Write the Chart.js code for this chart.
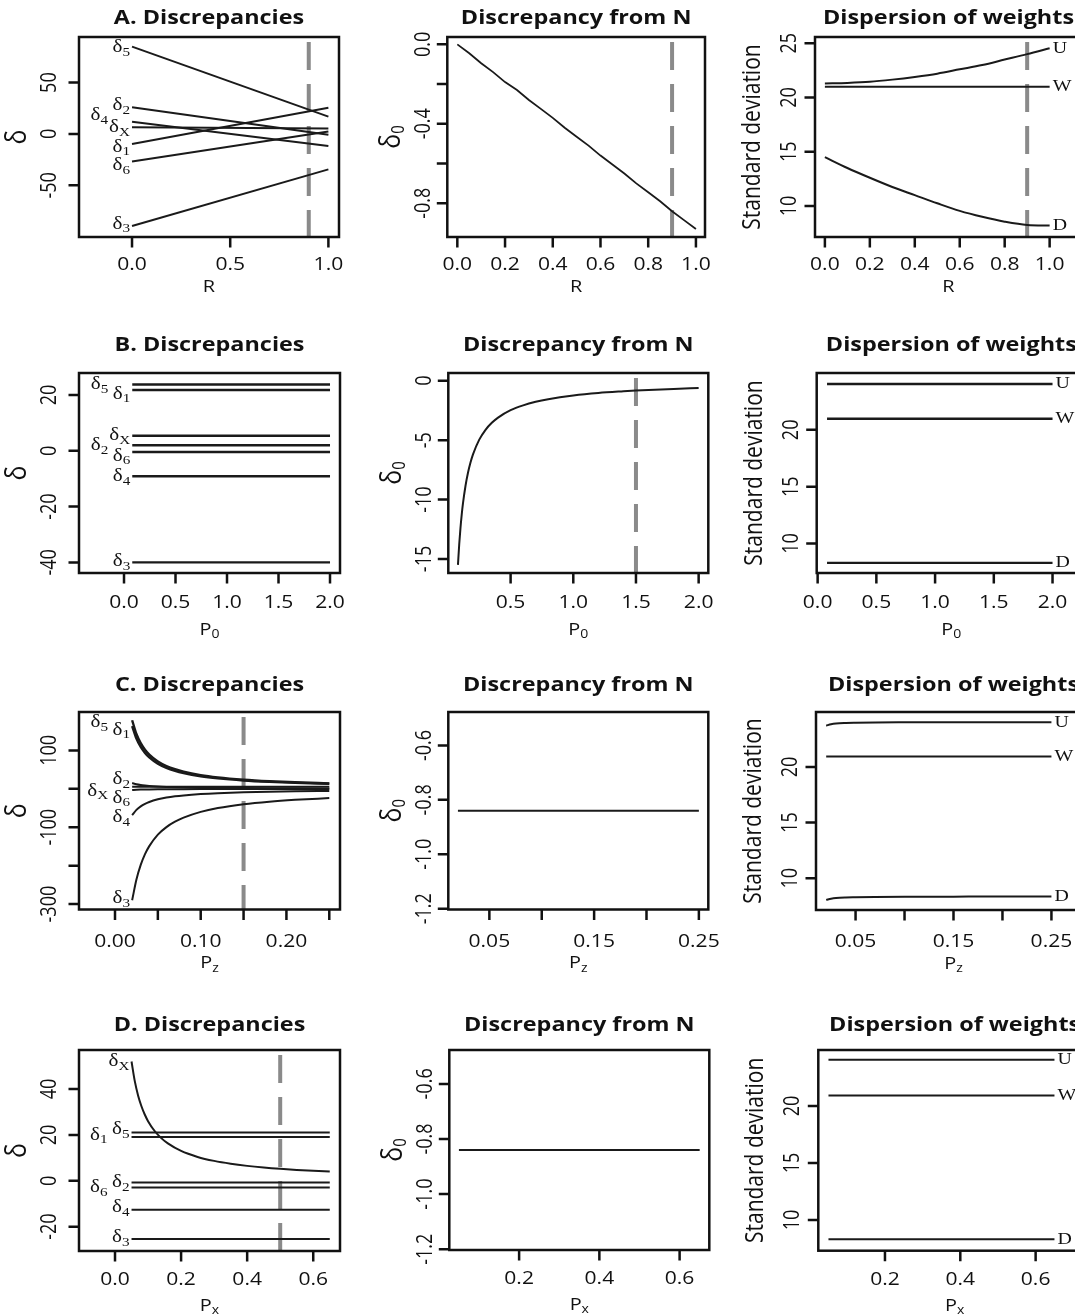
<!DOCTYPE html>
<html>
<head>
<meta charset="utf-8">
<script src="https://cdn.jsdelivr.net/npm/chart.js@4.4.0/dist/chart.umd.min.js"></script>
<style>
  body { margin: 0; background: #fff; }
  #sheet { position: relative; width: 1075px; height: 1316px; overflow: hidden; background: #fff; }
  #sheet canvas { position: absolute; }
</style>
</head>
<body>
<div id="sheet"></div>
<script>
// ---- A: sweep over R ----
var aR = [0, 1];
var aD5 = [85.0, 16.9];
var aD2 = [26.0, -0.7];
var aD4 = [12.0, -11.7];
var aDX = [6.5, 5.3];
var aD1 = [-9.7, 25.6];
var aD6 = [-26.9, 2.5];
var aD3 = [-89.6, -34.5];

var aRfine = [0, 0.05, 0.1, 0.15, 0.2, 0.25, 0.3, 0.35, 0.4, 0.45, 0.5,
              0.55, 0.6, 0.65, 0.7, 0.75, 0.8, 0.85, 0.9, 0.95, 1];
var aD0 = [0, -0.045, -0.095, -0.14, -0.19, -0.23, -0.28, -0.325, -0.37, -0.42, -0.465,
           -0.51, -0.56, -0.605, -0.65, -0.70, -0.745, -0.79, -0.84, -0.885, -0.93];

var aRsd = [0, 0.1, 0.2, 0.3, 0.4, 0.5, 0.6, 0.7, 0.8, 0.9, 1];
var aSdU = [21.3, 21.35, 21.45, 21.65, 21.9, 22.2, 22.6, 23.0, 23.5, 24.0, 24.55];
var aSdW = [21.0, 21.0, 21.0, 21.0, 21.0, 21.0, 21.0, 21.0, 21.0, 21.0, 21.0];
var aSdD = [14.5, 13.5, 12.6, 11.75, 11.0, 10.25, 9.55, 9.0, 8.55, 8.25, 8.2];

// ---- B: sweep over P0 ----
var bP0 = [0.08, 2.0];
var bD5 = [23.8, 23.8];
var bD1 = [21.8, 21.8];
var bDX = [5.4, 5.4];
var bD2 = [2.0, 2.0];
var bD6 = [-0.4, -0.4];
var bD4 = [-9.1, -9.1];
var bD3 = [-40, -40];

var bP0fine = [0.08, 0.09, 0.1, 0.11, 0.12, 0.14, 0.16, 0.18, 0.2, 0.25, 0.3, 0.35,
               0.4, 0.5, 0.6, 0.7, 0.8, 1.0, 1.2, 1.4, 1.5, 1.6, 1.8, 2.0];
var bD0 = [-15.5, -13.78, -12.4, -11.27, -10.33, -8.86, -7.75, -6.89, -6.2, -4.96, -4.13, -3.54,
           -3.1, -2.48, -2.07, -1.77, -1.55, -1.24, -1.03, -0.89, -0.83, -0.78, -0.69, -0.62];

var bSdU = [24.03, 24.03];
var bSdW = [20.97, 20.97];
var bSdD = [8.3, 8.3];

// ---- C: sweep over Pz ----
var cPz = [0.02, 0.025, 0.03, 0.035, 0.04, 0.05, 0.06, 0.07, 0.08, 0.1, 0.12, 0.15, 0.18, 0.21, 0.25];
var cD5 = [178.5, 142.8, 119, 102, 89.3, 71.4, 59.5, 51, 44.6, 35.7, 29.8, 23.8, 19.8, 17.0, 14.3];
var cD1 = [163.5, 130.8, 109, 93.4, 81.8, 65.4, 54.5, 46.7, 40.9, 32.7, 27.3, 21.8, 18.2, 15.6, 13.1];
var cD2 = [15, 12, 10, 8.6, 7.5, 6, 5, 4.3, 3.75, 3, 2.5, 2, 1.67, 1.43, 1.2];
var cDX = [5.4, 5.4, 5.4, 5.4, 5.4, 5.4, 5.4, 5.4, 5.4, 5.4, 5.4, 5.4, 5.4, 5.4, 5.4];
var cD6 = [-3, -2.4, -2, -1.7, -1.5, -1.2, -1, -0.86, -0.75, -0.6, -0.5, -0.4, -0.33, -0.29, -0.24];
var cD4 = [-68.3, -54.6, -45.5, -39, -34.1, -27.3, -22.8, -19.5, -17.1, -13.7, -11.4, -9.1, -7.6, -6.5, -5.5];
var cD3 = [-290, -236, -198, -170, -149, -119, -99.5, -85.5, -75, -60, -50, -40, -33.3, -28.6, -24];

var cPzEnds = [0.02, 0.25];
var cD0 = [-0.84, -0.84];

var cPzSd = [0.02, 0.025, 0.03, 0.04, 0.05, 0.07, 0.1, 0.15, 0.2, 0.25];
var cSdU = [23.72, 23.85, 23.92, 23.97, 23.99, 24.01, 24.02, 24.03, 24.03, 24.03];
var cSdW = [20.95, 20.95, 20.95, 20.95, 20.95, 20.95, 20.95, 20.95, 20.95, 20.95];
var cSdD = [8.05, 8.15, 8.21, 8.26, 8.28, 8.31, 8.33, 8.34, 8.35, 8.35];

// ---- D: sweep over Px ----
var dPx = [0.05, 0.65];
var dD5 = [21.0, 21.0];
var dD1 = [19.1, 19.1];
var dD2 = [-0.7, -0.7];
var dD6 = [-2.9, -2.9];
var dD4 = [-12.6, -12.6];
var dD3 = [-25.4, -25.4];

var dPxFine = [0.05, 0.06, 0.07, 0.08, 0.09, 0.1, 0.12, 0.14, 0.16, 0.2, 0.25, 0.3,
               0.35, 0.4, 0.45, 0.5, 0.55, 0.6, 0.65];
var dDX = [52, 43.3, 37.1, 32.5, 28.9, 26, 21.7, 18.6, 16.3, 13, 10.4, 8.67,
           7.43, 6.5, 5.78, 5.2, 4.73, 4.33, 4.0];

var dD0 = [-0.84, -0.84];
var dSdU = [24.05, 24.05];
var dSdW = [20.9, 20.9];
var dSdD = [8.3, 8.3];

// tick values and their printed labels ('' = tick without label)
var ticksR = [0, 0.2, 0.4, 0.6, 0.8, 1];
var labelsR = ['0.0', '0.2', '0.4', '0.6', '0.8', '1.0'];
var ticksP0 = [0, 0.5, 1, 1.5, 2];
var labelsP0 = ['0.0', '0.5', '1.0', '1.5', '2.0'];
var ticksPz = [0, 0.05, 0.1, 0.15, 0.2, 0.25];
var labelsPz = ['0.00', '', '0.10', '', '0.20', ''];
var ticksPzN = [0.05, 0.1, 0.15, 0.2, 0.25];
var labelsPzN = ['0.05', '', '0.15', '', '0.25'];
var ticksPx = [0, 0.2, 0.4, 0.6];
var labelsPx = ['0.0', '0.2', '0.4', '0.6'];
var ticksD0 = [-0.6, -0.8, -1.0, -1.2];
var labelsD0 = ['-0.6', '-0.8', '-1.0', '-1.2'];
var ticksSd = [10, 15, 20];
var labelsSd = ['10', '15', '20'];

var SX = 1.17;                      // glyphs in this figure run wide
var SANS = '"Open Sans", sans-serif';
var SERIF = '"Liberation Serif", "Times New Roman", serif';
var INK = '#111';
var TICK = 10.5;

var ROWS = [
  { top: 0,   h: 318, titleY: 18,   tickGap: 28, titleGap: 50 },
  { top: 318, h: 342, titleY: 345,  tickGap: 30, titleGap: 57 },
  { top: 660, h: 330, titleY: 685,  tickGap: 32, titleGap: 54 },
  { top: 990, h: 326, titleY: 1025, tickGap: 29, titleGap: 55 }
];
var COLS = [
  { left: 0,   w: 385, yTickGap: 29, yTitleGap: 61 },
  { left: 358, w: 385, yTickGap: 23, yTitleGap: 56 },
  { left: 716, w: 384, yTickGap: 25, yTitleGap: 62 }
];

function pts(xs, ys) {
  return xs.map(function (x, i) { return { x: x, y: ys[i] }; });
}

function put(ctx, s, x, y, font, align, rot) {
  ctx.save();
  ctx.translate(x, y);
  ctx.scale(SX, 1);
  if (rot) ctx.rotate(rot);
  ctx.font = font;
  ctx.textAlign = align;
  ctx.textBaseline = 'middle';
  ctx.fillText(s, 0, 0);
  ctx.restore();
}

// main glyph followed by a lowered subscript
function putSub(ctx, main, sub, x, y, size, subSize, family, align, rot) {
  ctx.save();
  ctx.translate(x, y);
  ctx.scale(SX, 1);
  if (rot) ctx.rotate(rot);
  ctx.textBaseline = 'middle';
  ctx.textAlign = 'left';
  var f1 = size + 'px ' + family, f2 = subSize + 'px ' + family;
  ctx.font = f1;
  var w1 = ctx.measureText(main).width;
  ctx.font = f2;
  var w2 = sub ? ctx.measureText(sub).width : 0;
  var x0 = align === 'right' ? -(w1 + w2) : (align === 'center' ? -(w1 + w2) / 2 : 0);
  ctx.font = f1;
  ctx.fillText(main, x0, 0);
  if (sub) {
    ctx.font = f2;
    ctx.fillText(sub, x0 + w1, size * 0.28);
  }
  ctx.restore();
}

function frame(p) {
  var row = ROWS[p.row], col = COLS[p.col];
  return {
    id: 'frame',
    afterDatasetsDraw: function (chart) {
      var ctx = chart.ctx, a = chart.chartArea, xs = chart.scales.x, ys = chart.scales.y;
      ctx.save();
      ctx.strokeStyle = INK;
      ctx.fillStyle = INK;
      ctx.lineWidth = 2.5;
      ctx.strokeRect(a.left, a.top, a.right - a.left, a.bottom - a.top);

      ctx.beginPath();
      p.xTicks.forEach(function (v) {
        var px = xs.getPixelForValue(v);
        ctx.moveTo(px, a.bottom); ctx.lineTo(px, a.bottom + TICK);
      });
      p.yTicks.forEach(function (v) {
        var py = ys.getPixelForValue(v);
        ctx.moveTo(a.left, py); ctx.lineTo(a.left - TICK, py);
      });
      ctx.stroke();

      var tickFont = '18px ' + SANS;
      p.xTicks.forEach(function (v, i) {
        if (p.xLabels[i]) put(ctx, p.xLabels[i], xs.getPixelForValue(v), a.bottom + row.tickGap, tickFont, 'center');
      });
      p.yTicks.forEach(function (v, i) {
        if (p.yLabels[i]) put(ctx, p.yLabels[i], a.left - col.yTickGap, ys.getPixelForValue(v), tickFont, 'center', -Math.PI / 2);
      });

      var cx = (a.left + a.right) / 2;
      put(ctx, p.title, cx, row.titleY - row.top, 'bold 20px ' + SANS, 'center');
      putSub(ctx, p.xTitle[0], p.xTitle[1], cx, a.bottom + row.titleGap, 17, 12, SANS, 'center');
      var longTitle = p.yTitle[0].length > 2;
      putSub(ctx, p.yTitle[0], p.yTitle[1], a.left - col.yTitleGap, (a.top + a.bottom) / 2,
             longTitle ? 21 : 25, 15, SANS, 'center', -Math.PI / 2);

      (p.tags || []).forEach(function (t) {
        var px = xs.getPixelForValue(t.x) + (t.dx || 0);
        var py = ys.getPixelForValue(t.y) + (t.dy || 0);
        if (t.side === 'right') {
          put(ctx, t.main, px + 3, py, '17px ' + SERIF, 'left');
        } else {
          putSub(ctx, 'δ', t.sub, px - 2, py, 18, 13, SERIF, 'right');
        }
      });
      ctx.restore();
    }
  };
}

function panel(p) {
  var row = ROWS[p.row], col = COLS[p.col];
  var cv = document.createElement('canvas');
  cv.width = col.w;
  cv.height = row.h;
  cv.style.left = col.left + 'px';
  cv.style.top = row.top + 'px';
  document.getElementById('sheet').appendChild(cv);

  var sets = p.lines.map(function (l) {
    return {
      data: pts(l.x, l.y),
      showLine: true,
      borderColor: '#1a1a1a',
      borderWidth: l.w || 2,
      pointRadius: 0,
      fill: false,
      cubicInterpolationMode: l.smooth ? 'monotone' : 'default',
      tension: 0
    };
  });
  if (p.marker !== undefined) {
    // reference value, dashed across the whole plot region
    sets.push({
      data: [{ x: p.marker, y: p.yr[1] }, { x: p.marker, y: p.yr[0] }],
      showLine: true,
      borderColor: '#8a8a8a',
      borderWidth: 4,
      borderDash: [28, 14],
      borderDashOffset: 37,
      pointRadius: 0,
      fill: false
    });
  }

  new Chart(cv, {
    type: 'scatter',
    data: { datasets: sets },
    options: {
      responsive: false,
      animation: false,
      devicePixelRatio: 1,
      events: [],
      layout: {
        padding: {
          left: p.box[0] - col.left,
          top: p.box[1] - row.top,
          right: col.w - (p.box[2] - col.left),
          bottom: row.h - (p.box[3] - row.top)
        }
      },
      plugins: { legend: { display: false }, tooltip: { enabled: false }, title: { display: false } },
      scales: {
        x: { type: 'linear', display: false, min: p.xr[0], max: p.xr[1] },
        y: { type: 'linear', display: false, min: p.yr[0], max: p.yr[1] }
      }
    },
    plugins: [frame(p)]
  });
}

// ---------- row A ----------
panel({
  row: 0, col: 0, box: [79, 37, 339, 237], title: 'A. Discrepancies',
  xr: [-0.27, 1.054], yr: [-100.3, 94.4],
  xTicks: [0, 0.5, 1], xLabels: ['0.0', '0.5', '1.0'],
  yTicks: [-50, 0, 50], yLabels: ['-50', '0', '50'],
  xTitle: ['R', ''], yTitle: ['δ', ''],
  lines: [
    { x: aR, y: aD5 }, { x: aR, y: aD2 }, { x: aR, y: aD4 }, { x: aR, y: aDX },
    { x: aR, y: aD1 }, { x: aR, y: aD6 }, { x: aR, y: aD3 }
  ],
  marker: 0.9,
  tags: [
    { sub: '5', x: 0, y: aD5[0], dy: 1 },
    { sub: '2', x: 0, y: aD2[0], dy: -2 },
    { sub: '4', x: 0, y: aD4[0], dx: -22, dy: -6 },
    { sub: 'X', x: 0, y: aDX[0], dy: 0 },
    { sub: '1', x: 0, y: aD1[0], dy: 3 },
    { sub: '6', x: 0, y: aD6[0], dy: 4 },
    { sub: '3', x: 0, y: aD3[0], dy: -2 }
  ]
});

panel({
  row: 0, col: 1, box: [447.3, 37, 705, 237], title: 'Discrepancy from N',
  xr: [-0.042, 1.038], yr: [-0.970, 0.037],
  xTicks: ticksR, xLabels: labelsR,
  yTicks: [0, -0.2, -0.4, -0.6, -0.8], yLabels: ['0.0', '', '-0.4', '', '-0.8'],
  xTitle: ['R', ''], yTitle: ['δ', '0'],
  lines: [{ x: aRfine, y: aD0, w: 1.8 }],
  marker: 0.9
});

panel({
  row: 0, col: 2, box: [815, 37, 1082, 237], title: 'Dispersion of weights',
  xr: [-0.044, 1.144], yr: [7.14, 25.58],
  xTicks: ticksR, xLabels: labelsR, yTicks: [10, 15, 20, 25], yLabels: ['10', '15', '20', '25'],
  xTitle: ['R', ''], yTitle: ['Standard deviation', ''],
  lines: [{ x: aRsd, y: aSdU, smooth: true }, { x: aRsd, y: aSdW }, { x: aRsd, y: aSdD, smooth: true }],
  marker: 0.9,
  tags: [
    { side: 'right', main: 'U', x: 1, y: aSdU[10] },
    { side: 'right', main: 'W', x: 1, y: aSdW[10] },
    { side: 'right', main: 'D', x: 1, y: aSdD[10] }
  ]
});

// ---------- row B ----------
panel({
  row: 1, col: 0, box: [79, 373, 340, 573], title: 'B. Discrepancies',
  xr: [-0.437, 2.097], yr: [-43.8, 27.9],
  xTicks: ticksP0, xLabels: labelsP0, yTicks: [-40, -20, 0, 20], yLabels: ['-40', '-20', '0', '20'],
  xTitle: ['P', '0'], yTitle: ['δ', ''],
  lines: [
    { x: bP0, y: bD5, w: 2.6 }, { x: bP0, y: bD1, w: 2.6 }, { x: bP0, y: bDX, w: 2.6 },
    { x: bP0, y: bD2, w: 2.6 }, { x: bP0, y: bD6, w: 2.6 }, { x: bP0, y: bD4, w: 2.4 },
    { x: bP0, y: bD3, w: 2.2 }
  ],
  tags: [
    { sub: '5', x: 0.08, y: bD5[0], dx: -22, dy: 0 },
    { sub: '1', x: 0.08, y: bD1[0], dy: 4 },
    { sub: 'X', x: 0.08, y: bDX[0], dy: 0 },
    { sub: '2', x: 0.08, y: bD2[0], dx: -22, dy: 0 },
    { sub: '6', x: 0.08, y: bD6[0], dy: 4 },
    { sub: '4', x: 0.08, y: bD4[0], dy: 0 },
    { sub: '3', x: 0.08, y: bD3[0], dy: -1 }
  ]
});

panel({
  row: 1, col: 1, box: [448.3, 373, 708.3, 573], title: 'Discrepancy from N',
  xr: [0.003, 2.077], yr: [-16.18, 0.65],
  xTicks: [0.5, 1, 1.5, 2], xLabels: ['0.5', '1.0', '1.5', '2.0'],
  yTicks: [0, -5, -10, -15], yLabels: ['0', '-5', '-10', '-15'],
  xTitle: ['P', '0'], yTitle: ['δ', '0'],
  lines: [{ x: bP0fine, y: bD0, smooth: true }],
  marker: 1.5
});

panel({
  row: 1, col: 2, box: [816.7, 373, 1086, 573], title: 'Dispersion of weights',
  xr: [-0.008, 2.285], yr: [7.41, 25.0],
  xTicks: ticksP0, xLabels: labelsP0, yTicks: ticksSd, yLabels: labelsSd,
  xTitle: ['P', '0'], yTitle: ['Standard deviation', ''],
  lines: [{ x: bP0, y: bSdU, w: 2.6 }, { x: bP0, y: bSdW, w: 2.6 }, { x: bP0, y: bSdD, w: 2.4 }],
  tags: [
    { side: 'right', main: 'U', x: 2, y: bSdU[1] },
    { side: 'right', main: 'W', x: 2, y: bSdW[1] },
    { side: 'right', main: 'D', x: 2, y: bSdD[1] }
  ]
});

// ---------- row C ----------
panel({
  row: 2, col: 0, box: [79, 712, 340, 909.5], title: 'C. Discrepancies',
  xr: [-0.042, 0.2625], yr: [-314, 200],
  xTicks: ticksPz, xLabels: labelsPz,
  yTicks: [100, 0, -100, -200, -300], yLabels: ['100', '', '-100', '', '-300'],
  xTitle: ['P', 'z'], yTitle: ['δ', ''],
  lines: [
    { x: cPz, y: cD5, smooth: true, w: 2.4 }, { x: cPz, y: cD1, smooth: true, w: 2.4 },
    { x: cPz, y: cD2, smooth: true }, { x: cPz, y: cDX }, { x: cPz, y: cD6, smooth: true },
    { x: cPz, y: cD4, smooth: true }, { x: cPz, y: cD3, smooth: true }
  ],
  marker: 0.15,
  tags: [
    { sub: '5', x: 0.02, y: cD5[0], dx: -22, dy: 2 },
    { sub: '1', x: 0.02, y: cD1[0], dy: 4 },
    { sub: '2', x: 0.02, y: cD2[0], dy: -4 },
    { sub: 'X', x: 0.02, y: cDX[0], dx: -22, dy: 4 },
    { sub: '6', x: 0.02, y: cD6[0], dy: 8 },
    { sub: '4', x: 0.02, y: cD4[0], dy: 2 },
    { sub: '3', x: 0.02, y: cD3[0], dy: -2 }
  ]
});

panel({
  row: 2, col: 1, box: [448.3, 712, 708.3, 909.5], title: 'Discrepancy from N',
  xr: [0.0108, 0.259], yr: [-1.203, -0.477],
  xTicks: ticksPzN, xLabels: labelsPzN,
  yTicks: ticksD0, yLabels: labelsD0,
  xTitle: ['P', 'z'], yTitle: ['δ', '0'],
  lines: [{ x: cPzEnds, y: cD0 }]
});

panel({
  row: 2, col: 2, box: [816, 712, 1091, 910], title: 'Dispersion of weights',
  xr: [0.0096, 0.2904], yr: [7.14, 24.95],
  xTicks: ticksPzN, xLabels: labelsPzN,
  yTicks: ticksSd, yLabels: labelsSd,
  xTitle: ['P', 'z'], yTitle: ['Standard deviation', ''],
  lines: [{ x: cPzSd, y: cSdU, smooth: true }, { x: cPzSd, y: cSdW }, { x: cPzSd, y: cSdD, smooth: true }],
  tags: [
    { side: 'right', main: 'U', x: 0.25, y: cSdU[9] },
    { side: 'right', main: 'W', x: 0.25, y: cSdW[9] },
    { side: 'right', main: 'D', x: 0.25, y: cSdD[9] }
  ]
});

// ---------- row D ----------
panel({
  row: 3, col: 0, box: [79, 1050, 340, 1251], title: 'D. Discrepancies',
  xr: [-0.109, 0.681], yr: [-30.6, 57],
  xTicks: ticksPx, xLabels: labelsPx, yTicks: [-20, 0, 20, 40], yLabels: ['-20', '0', '20', '40'],
  xTitle: ['P', 'x'], yTitle: ['δ', ''],
  lines: [
    { x: dPxFine, y: dDX, smooth: true }, { x: dPx, y: dD5 }, { x: dPx, y: dD1 },
    { x: dPx, y: dD2 }, { x: dPx, y: dD6 }, { x: dPx, y: dD4 }, { x: dPx, y: dD3 }
  ],
  marker: 0.5,
  tags: [
    { sub: 'X', x: 0.05, y: dDX[0], dy: 0 },
    { sub: '5', x: 0.05, y: dD5[0], dy: -3 },
    { sub: '1', x: 0.05, y: dD1[0], dx: -22, dy: -2 },
    { sub: '2', x: 0.05, y: dD2[0], dy: 0 },
    { sub: '6', x: 0.05, y: dD6[0], dx: -22, dy: 0 },
    { sub: '4', x: 0.05, y: dD4[0], dy: -2 },
    { sub: '3', x: 0.05, y: dD3[0], dy: -2 }
  ]
});

panel({
  row: 3, col: 1, box: [449.3, 1050, 709.3, 1250], title: 'Discrepancy from N',
  xr: [0.026, 0.674], yr: [-1.203, -0.477],
  xTicks: [0.2, 0.4, 0.6], xLabels: ['0.2', '0.4', '0.6'],
  yTicks: ticksD0, yLabels: labelsD0,
  xTitle: ['P', 'x'], yTitle: ['δ', '0'],
  lines: [{ x: dPx, y: dD0 }]
});

panel({
  row: 3, col: 2, box: [818.3, 1050, 1091, 1250.7], title: 'Dispersion of weights',
  xr: [0.023, 0.747], yr: [7.3, 24.9],
  xTicks: [0.2, 0.4, 0.6], xLabels: ['0.2', '0.4', '0.6'],
  yTicks: ticksSd, yLabels: labelsSd,
  xTitle: ['P', 'x'], yTitle: ['Standard deviation', ''],
  lines: [{ x: dPx, y: dSdU }, { x: dPx, y: dSdW }, { x: dPx, y: dSdD }],
  tags: [
    { side: 'right', main: 'U', x: 0.65, y: dSdU[1] },
    { side: 'right', main: 'W', x: 0.65, y: dSdW[1] },
    { side: 'right', main: 'D', x: 0.65, y: dSdD[1] }
  ]
});
</script>
</body>
</html>
